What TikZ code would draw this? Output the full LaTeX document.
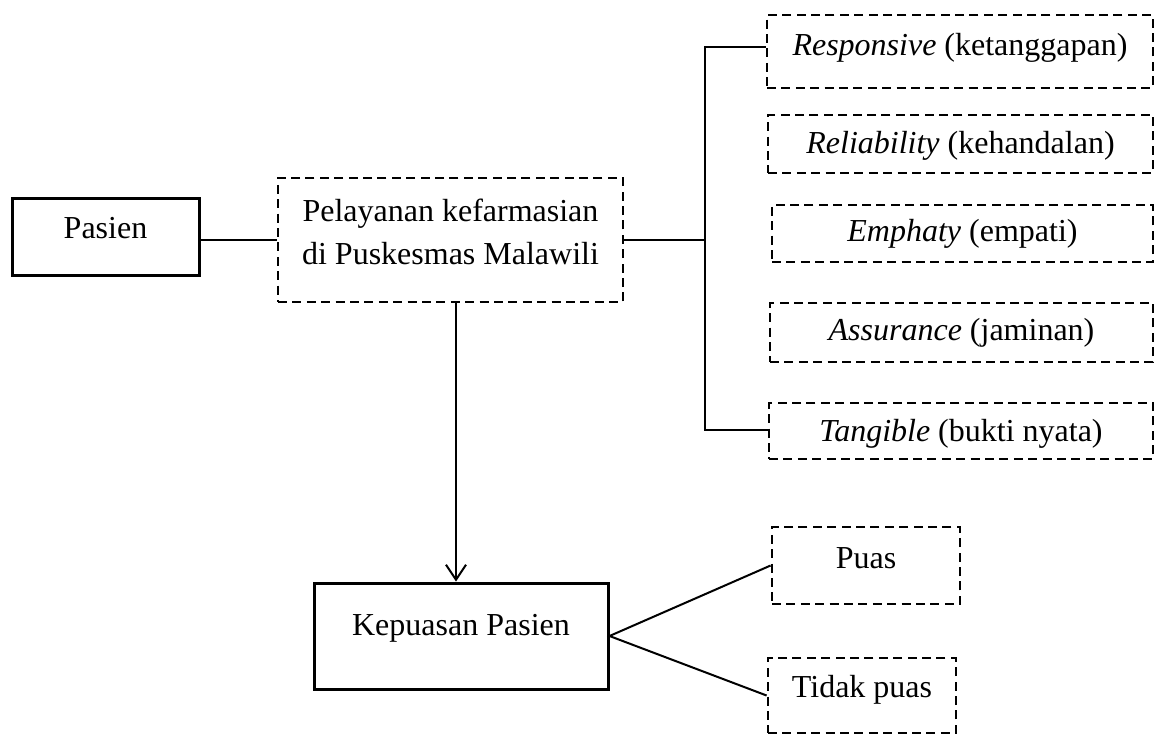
\documentclass[tikz,border=0pt]{standalone}
\usepackage{fontspec}
\setmainfont{Liberation Serif}
\usetikzlibrary{arrows.meta}
\begin{document}
\begin{tikzpicture}[x=0.5pt,y=-0.5pt,
  every node/.style={font=\fontsize{16pt}{21.5pt}\selectfont, inner sep=0pt},
  sbox/.style={draw, line width=1.5pt, rectangle},
  dbox/.style={draw, line width=1.4pt, dash pattern=on 4.5pt off 2.7pt, rectangle},
  conn/.style={line width=1pt},
  arr/.style={line width=1pt, -{Straight Barb[length=7.5pt,width=10pt]}}
]
\useasboundingbox (0,0) rectangle (1157,735);

\node[sbox, minimum width=93.5pt, minimum height=38.5pt, text height=9pt, text depth=7pt] (pas) at (105.5,236.5) {Pasien};
\node[dbox, minimum width=172.5pt, minimum height=62pt] (pel) at (450.5,240) {};
\node[align=center] (peltxt) at (450.5,232) {Pelayanan kefarmasian\\di Puskesmas Malawili};

\node[dbox, minimum width=193pt, minimum height=36.5pt, text height=10pt, text depth=6.5pt] (res) at (960,51.5) {\textit{Responsive} (ketanggapan)};
\node[dbox, minimum width=192.5pt, minimum height=29pt, text height=12pt, text depth=3pt] (rel) at (960.5,144) {\textit{Reliability} (kehandalan)};
\node[dbox, minimum width=190.5pt, minimum height=28.5pt, text height=11.5pt, text depth=3.5pt] (emp) at (962.5,233.5) {\textit{Emphaty} (empati)};
\node[dbox, minimum width=191.5pt, minimum height=29.5pt, text height=11.5pt, text depth=4pt] (asu) at (961.5,332.5) {\textit{Assurance} (jaminan)};
\node[dbox, minimum width=192pt, minimum height=28pt, text height=13pt, text depth=2.3pt] (tan) at (961,431) {\textit{Tangible} (bukti nyata)};

\node[sbox, minimum width=147pt, minimum height=53pt, text height=8pt, text depth=9pt] (kep) at (461,636) {Kepuasan Pasien};
\node[dbox, minimum width=94pt, minimum height=38.5pt, text height=10pt, text depth=7pt] (pua) at (866,565.5) {Puas};
\node[dbox, minimum width=94pt, minimum height=37.5pt, text height=10pt, text depth=8pt] (tdk) at (862,695.5) {Tidak puas};

\coordinate (brt) at (705,47);
\coordinate (brb) at (705,430);
\coordinate (brm) at (705,240);

\draw[conn] (pas.east |- pel.west) -- (pel.west);
\draw[conn] (pel.east) -- (brm);
\draw[conn] (brt -| res.west) -- (brt) -- (brb) -- (brb -| tan.west);
\draw[arr] ([xshift=2.75pt]pel.south) -- ([xshift=2.75pt]pel.south |- kep.north);
\draw[conn] (pua.west) -- (kep.east) -- (tdk.west);
\end{tikzpicture}
\end{document}
